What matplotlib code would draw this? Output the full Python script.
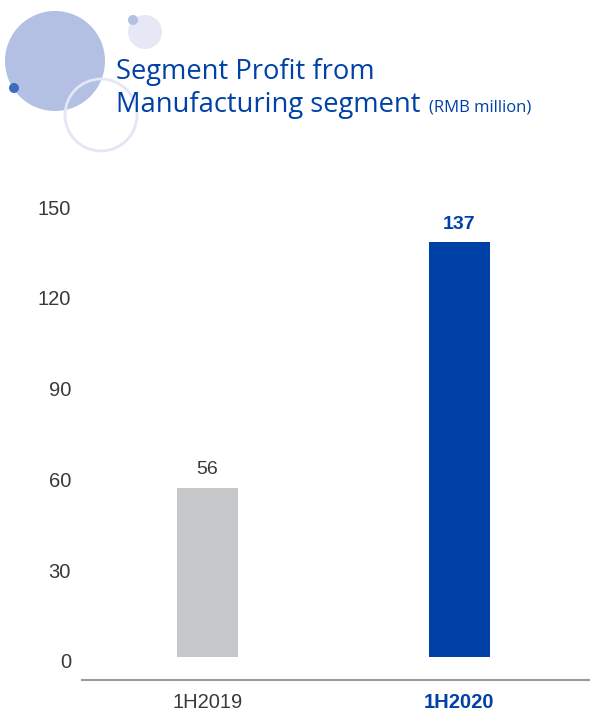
import matplotlib
matplotlib.use("Agg")
import matplotlib.pyplot as plt
from matplotlib.patches import Circle
from matplotlib.transforms import ScaledTranslation

categories = ["1H2019", "1H2020"]
values = [56, 137]
yticks = [0, 30, 60, 90, 120, 150]

blue = "#0041A8"
gray_bar = "#C6C7C9"
text_gray = "#3A3A3A"

W, H = 590, 714
fig = plt.figure(figsize=(W / 100, H / 100), dpi=100)

deco = fig.add_axes([0, 0, 1, 1], zorder=0)
deco.set_axis_off()
deco.set_xlim(0, W)
deco.set_ylim(H, 0)
for (x, y, r, kw) in [
    (55, 61, 50, dict(facecolor="#B3BFE3", edgecolor="none")),
    (145, 32, 17, dict(facecolor="#E6E9F5", edgecolor="none")),
    (133, 20, 5, dict(facecolor="#B3BFE3", edgecolor="none")),
    (101, 115, 36, dict(facecolor="none", edgecolor="#E3E6F4", linewidth=2)),
    (14, 88, 5, dict(facecolor="#3A6CC0", edgecolor="none")),
]:
    deco.add_patch(Circle((x, y), r, **kw))

tf = dict(family="Open Sans", color=blue)
fig.text(116 / W, 1 - 79 / H, "Segment Profit from", fontsize=19.7, va="baseline", ha="left", **tf)
fig.text(116 / W, 1 - 112 / H, "Manufacturing segment", fontsize=19.7, va="baseline", ha="left", **tf)
fig.text(429 / W, 1 - 112 / H, "(RMB million)", fontsize=12, va="baseline", ha="left", **tf)

ax = fig.add_axes([82 / W, 1 - 680 / H, 1 - 82 / W, (680 - 200) / H], zorder=1)
ax.patch.set_alpha(0)
x = list(range(len(categories)))
colors = [gray_bar, blue]
ax.bar(x, values, width=0.242, color=colors)
ax.set_xlim(-0.498, 1.518)
ax.set_ylim(-7.6, 151)

for xi, v, c in zip(x, values, colors):
    bold = c == blue
    ax.text(xi, v + 3.2, str(v), ha="center", va="bottom", fontsize=14,
            family="Liberation Sans", color=blue if bold else text_gray,
            fontweight="bold" if bold else "normal")

ax.set_yticks(yticks)
ax.set_yticklabels([str(t) for t in yticks], family="Liberation Sans", fontsize=14.5, color=text_gray)
ax.tick_params(axis="y", length=0, pad=8)
off = ScaledTranslation(0, -4 / 100, fig.dpi_scale_trans)
for lb in ax.get_yticklabels():
    lb.set_transform(lb.get_transform() + off)
ax.set_xticks(x)
ax.set_xticklabels(categories, family="Liberation Sans", fontsize=14.5)
ax.tick_params(axis="x", length=0, pad=9)
lbls = ax.get_xticklabels()
lbls[0].set_color(text_gray)
lbls[1].set_color(blue)
lbls[1].set_fontweight("bold")

for s in ["top", "right", "left"]:
    ax.spines[s].set_visible(False)
ax.spines["bottom"].set_color("#9A9A9A")
ax.spines["bottom"].set_linewidth(1.5)

fig.savefig("out.png", dpi=100)
